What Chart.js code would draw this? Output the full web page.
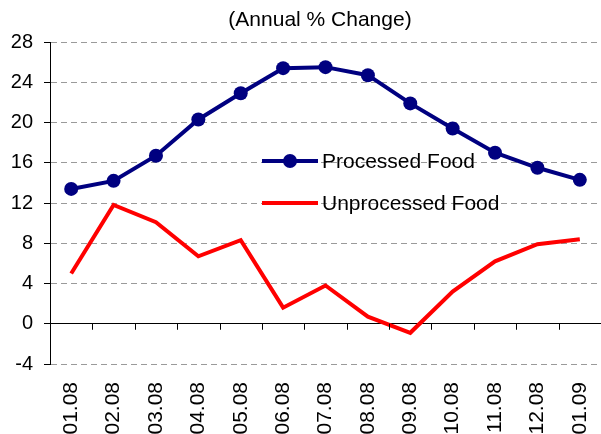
<!DOCTYPE html>
<html>
<head>
<meta charset="utf-8">
<script src="https://cdn.jsdelivr.net/npm/chart.js@4"></script>
<style>
  html, body { margin: 0; padding: 0; background: #fff; }
  #wrap { width: 601px; height: 434px; }
</style>
</head>
<body>
<div id="wrap"><canvas id="chart" width="601" height="434"></canvas></div>
<script>
const months = ['01.08', '02.08', '03.08', '04.08', '05.08', '06.08', '07.08',
                '08.08', '09.08', '10.08', '11.08', '12.08', '01.09'];
const processedFood = [13.4, 14.2, 16.7, 20.3, 22.9, 25.4, 25.5, 24.7, 21.9, 19.4, 17.0, 15.5, 14.3];
const unprocessedFood = [5.0, 11.8, 10.1, 6.7, 8.3, 1.6, 3.8, 0.7, -0.9, 3.2, 6.2, 7.9, 8.4];
const yTicks = [-4, 0, 4, 8, 12, 16, 20, 24, 28];
const titleText = '(Annual % Change)';

const FONT = 'Arial, "Liberation Sans", sans-serif';

// title over the plot area, zero line ticks and the inside legend
const extras = {
    id: 'extras',
    afterDraw(chart) {
        const ctx = chart.ctx;
        const area = chart.chartArea;
        const x = chart.scales.x;
        const y = chart.scales.y;
        ctx.save();

        ctx.fillStyle = '#000';
        ctx.font = '21px ' + FONT;
        ctx.textAlign = 'center';
        ctx.textBaseline = 'middle';
        ctx.fillText(titleText, 320, 20);

        // category boundary ticks hanging from the zero line
        const y0 = y.getPixelForValue(0);
        const step = x.getPixelForTick(1) - x.getPixelForTick(0);
        ctx.strokeStyle = '#000';
        ctx.lineWidth = 1;
        ctx.beginPath();
        for (let i = 1; i <= months.length; i++) {
            const px = Math.round(x.getPixelForTick(i - 1) + step / 2) + 0.5;
            if (px > area.right - 2) continue;
            ctx.moveTo(px, y0);
            ctx.lineTo(px, y0 + 6);
        }
        ctx.stroke();

        // legend
        const lx = 262, ly = [161, 203];
        chart.data.datasets.forEach((ds, i) => {
            ctx.strokeStyle = ds.borderColor;
            ctx.lineWidth = ds.borderWidth;
            ctx.beginPath();
            ctx.moveTo(lx, ly[i]);
            ctx.lineTo(lx + 56, ly[i]);
            ctx.stroke();
            if (ds.pointRadius > 0) {
                ctx.fillStyle = ds.pointBackgroundColor;
                ctx.beginPath();
                ctx.arc(lx + 28, ly[i], ds.pointRadius, 0, Math.PI * 2);
                ctx.fill();
            }
            ctx.fillStyle = '#000';
            ctx.font = '21px ' + FONT;
            ctx.textAlign = 'left';
            ctx.textBaseline = 'middle';
            ctx.fillText(ds.label, lx + 60, ly[i] + 1);
        });
        ctx.restore();
    }
};

new Chart(document.getElementById('chart'), {
    type: 'line',
    data: {
        labels: months,
        datasets: [{
            label: 'Processed Food',
            data: processedFood,
            borderColor: '#000080',
            backgroundColor: '#000080',
            pointBackgroundColor: '#000080',
            pointBorderColor: '#000080',
            borderWidth: 4,
            pointRadius: 7,
            pointBorderWidth: 0,
            tension: 0
        }, {
            label: 'Unprocessed Food',
            data: unprocessedFood,
            borderColor: '#ff0000',
            backgroundColor: '#ff0000',
            borderWidth: 4,
            pointRadius: 0,
            tension: 0
        }]
    },
    options: {
        responsive: false,
        animation: false,
        layout: { autoPadding: false, padding: { top: 42, right: 0, left: 0, bottom: 0 } },
        plugins: {
            legend: { display: false },
            title: { display: false },
            tooltip: { enabled: false }
        },
        scales: {
            x: {
                offset: true,
                grid: { display: false },
                border: { display: false },
                ticks: {
                    color: '#000',
                    font: { size: 21, family: FONT },
                    minRotation: 90,
                    maxRotation: 90,
                    padding: 10,
                    autoSkip: false
                },
                afterFit(scale) {
                    scale.height = 70;
                    scale.paddingLeft = 0;
                    scale.paddingRight = 0;
                }
            },
            y: {
                min: -4,
                max: 28,
                afterBuildTicks(scale) {
                    scale.ticks = yTicks.map(v => ({ value: v }));
                },
                grid: {
                    color: ctx => ctx.tick && ctx.tick.value === 0 ? '#000' : '#9a9a9a',
                    lineWidth: 1,
                    tickLength: 6,
                    tickColor: '#000',
                    tickBorderDash: []
                },
                border: {
                    display: true,
                    color: '#000',
                    width: 1,
                    dash: ctx => ctx.tick && ctx.tick.value === 0 ? [] : [6, 4]
                },
                ticks: {
                    color: '#000',
                    font: { size: 20, family: FONT },
                    padding: 11
                },
                afterFit(scale) { scale.width = 50; }
            }
        }
    },
    plugins: [extras]
});
</script>
</body>
</html>
